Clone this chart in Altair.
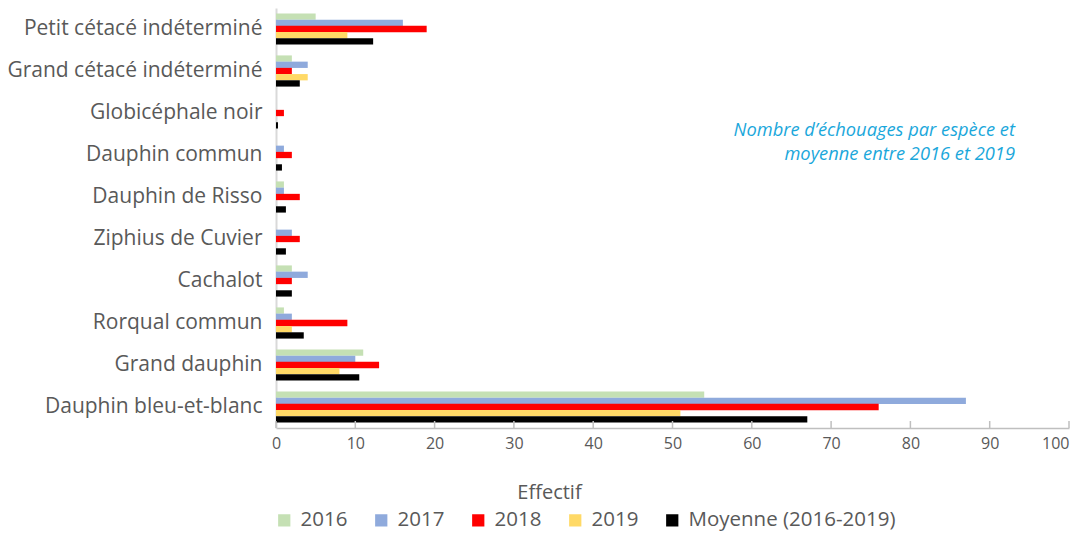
import altair as alt
import pandas as pd

categories = [
    "Petit cétacé indéterminé",
    "Grand cétacé indéterminé",
    "Globicéphale noir",
    "Dauphin commun",
    "Dauphin de Risso",
    "Ziphius de Cuvier",
    "Cachalot",
    "Rorqual commun",
    "Grand dauphin",
    "Dauphin bleu-et-blanc",
]
series = ["2016", "2017", "2018", "2019", "Moyenne (2016-2019)"]
colors = ["#C5E0B4", "#8FAADC", "#FF0000", "#FFD966", "#000000"]

v2016 = [5, 2, 0, 0, 1, 0, 2, 1, 11, 54]
v2017 = [16, 4, 0, 1, 1, 2, 4, 2, 10, 87]
v2018 = [19, 2, 1, 2, 3, 3, 2, 9, 13, 76]
v2019 = [9, 4, 0, 0, 0, 0, 0, 2, 8, 51]
vmean = [12.25, 3, 0.25, 0.75, 1.25, 1.25, 2, 3.5, 10.5, 67]

x_ticks = [0, 10, 20, 30, 40, 50, 60, 70, 80, 90, 100]
annotation = ["Nombre d’échouages par espèce et", "moyenne entre 2016 et 2019"]

rows = []
for s, vals in zip(series, [v2016, v2017, v2018, v2019, vmean]):
    for c, v in zip(categories, vals):
        rows.append({"espece": c, "serie": s, "valeur": v})
df = pd.DataFrame(rows)

W, H = 793, 420
FONT = "Open Sans"
GREY = "#595959"

bars = alt.Chart(df).mark_bar(size=6.3).encode(
    y=alt.Y("espece:N", sort=categories,
            scale=alt.Scale(paddingInner=0.26, paddingOuter=0.13),
            axis=alt.Axis(title=None, ticks=False, labelPadding=14,
                          labelFontSize=21, labelFont=FONT, labelColor=GREY,
                          domainColor="#D9D9D9", domainWidth=2, labelLimit=400)),
    yOffset=alt.YOffset("serie:N", sort=series),
    x=alt.X("valeur:Q", scale=alt.Scale(domain=[0, 100], nice=False),
            axis=alt.Axis(values=x_ticks, ticks=False, grid=False, title="Effectif",
                          labelFontSize=16, labelFont=FONT, labelColor=GREY,
                          labelPadding=7, labelFlush=False, labelOverlap=False,
                          labelAlign=alt.ExprRef(expr="datum.value == 100 ? 'right' : 'center'"),
                          domainColor="#BFBFBF", domainWidth=1.5,
                          titleFont=FONT, titleFontSize=20, titleFontWeight="normal",
                          titleColor=GREY, titleX=273, titleY=64, titleAlign="center",
                          titleBaseline="middle")),
    color=alt.Color("serie:N", sort=series,
                    scale=alt.Scale(domain=series, range=colors),
                    legend=alt.Legend(title=None, orient="none", direction="horizontal",
                                      legendX=-2, legendY=502, symbolType="square",
                                      symbolSize=150, symbolStrokeWidth=0,
                                      labelFont=FONT, labelFontSize=20.5, labelColor=GREY,
                                      labelOffset=6, columnPadding=23, labelLimit=400)),
)

ticks = alt.Chart(pd.DataFrame({"t": x_ticks})).mark_rule(color="#BFBFBF", strokeWidth=1.5).encode(
    x=alt.X("t:Q", scale=alt.Scale(domain=[0, 100], nice=False)),
    y=alt.value(H - 7),
    y2=alt.value(H),
)

note = alt.Chart(pd.DataFrame({"a": [0]})).mark_text(
    text=annotation, align="right", baseline="middle", font=FONT, fontStyle="italic",
    fontSize=18.3, color="#1AA7DB", lineHeight=24,
).encode(x=alt.value(739), y=alt.value(123))

chart = alt.layer(bars, ticks, note).properties(
    width=W, height=H,
    autosize=alt.AutoSizeParams(type="none"),
    padding={"left": 268, "top": 0, "right": 12, "bottom": 104},
).configure_view(stroke=None)

chart.save("out.html", embed_options={"renderer": "svg", "actions": False})
